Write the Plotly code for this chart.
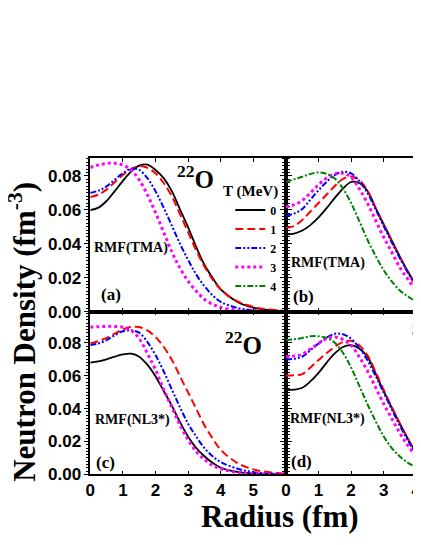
import plotly.graph_objects as go
from plotly.subplots import make_subplots

# Radius grid (fm)
radius = [0, 0.25, 0.5, 0.75, 1.0, 1.25, 1.5, 1.75, 2.0, 2.25, 2.5, 2.75,
          3.0, 3.25, 3.5, 3.75, 4.0, 4.5, 5.0, 5.5, 6.0]
radius_right = radius[:18]  # right panels are cut at ~4 fm

temps = ['0', '1', '2', '3', '4']

# (a) 22O, RMF(TMA)
a_t0 = [0.0598, 0.0613, 0.0652, 0.0710, 0.0771, 0.0825, 0.0860, 0.0866, 0.0835, 0.0787, 0.0710,
        0.0603, 0.0497, 0.0380, 0.0276, 0.0199, 0.0131, 0.0058, 0.0023, 0.0009, 0.0003]
a_t1 = [0.0675, 0.0690, 0.0719, 0.0763, 0.0806, 0.0840, 0.0858, 0.0848, 0.0816, 0.0758, 0.0680,
        0.0575, 0.0468, 0.0360, 0.0266, 0.0190, 0.0130, 0.0062, 0.0028, 0.0012, 0.0005]
a_t2 = [0.0700, 0.0713, 0.0738, 0.0777, 0.0816, 0.0842, 0.0835, 0.0787, 0.0710, 0.0613, 0.0507,
        0.0400, 0.0305, 0.0218, 0.0150, 0.0096, 0.0058, 0.0022, 0.0008, 0.0003, 0.0001]
a_t3 = [0.0850, 0.0864, 0.0873, 0.0875, 0.0864, 0.0835, 0.0777, 0.0690, 0.0584, 0.0468, 0.0353,
        0.0256, 0.0180, 0.0121, 0.0073, 0.0044, 0.0025, 0.0009, 0.0003, 0.0001, 0.0000]

# (c) 22O, RMF(NL3*)
c_t0 = [0.0680, 0.0687, 0.0700, 0.0716, 0.0730, 0.0734, 0.0716, 0.0667, 0.0597, 0.0507, 0.0418,
        0.0318, 0.0229, 0.0160, 0.0110, 0.0070, 0.0040, 0.0015, 0.0006, 0.0002, 0.0001]
c_t1 = [0.0796, 0.0810, 0.0830, 0.0856, 0.0882, 0.0896, 0.0896, 0.0876, 0.0836, 0.0776, 0.0697,
        0.0597, 0.0498, 0.0398, 0.0299, 0.0219, 0.0149, 0.0070, 0.0030, 0.0012, 0.0004]
c_t2 = [0.0786, 0.0796, 0.0816, 0.0846, 0.0870, 0.0876, 0.0862, 0.0806, 0.0726, 0.0627, 0.0517,
        0.0408, 0.0308, 0.0229, 0.0160, 0.0110, 0.0074, 0.0035, 0.0013, 0.0005, 0.0002]
c_t3 = [0.0896, 0.0898, 0.0900, 0.0900, 0.0896, 0.0876, 0.0826, 0.0736, 0.0637, 0.0517, 0.0408,
        0.0299, 0.0209, 0.0139, 0.0090, 0.0054, 0.0034, 0.0012, 0.0004, 0.0001, 0.0000]

# (b) RMF(TMA), second nucleus
b_t0 = [0.0455, 0.0460, 0.0478, 0.0510, 0.0555, 0.0610, 0.0670, 0.0725, 0.0764, 0.0758, 0.0712,
        0.0613, 0.0515, 0.0420, 0.0324, 0.0235, 0.0160, 0.0065]
b_t1 = [0.0493, 0.0505, 0.0540, 0.0590, 0.0640, 0.0690, 0.0740, 0.0782, 0.0796, 0.0775, 0.0715,
        0.0612, 0.0512, 0.0415, 0.0320, 0.0232, 0.0155, 0.0060]
b_t2 = [0.0565, 0.0578, 0.0605, 0.0660, 0.0715, 0.0765, 0.0805, 0.0825, 0.0815, 0.0770, 0.0700,
        0.0605, 0.0505, 0.0408, 0.0315, 0.0228, 0.0152, 0.0058]
b_t3 = [0.0617, 0.0630, 0.0655, 0.0700, 0.0748, 0.0788, 0.0812, 0.0815, 0.0792, 0.0725, 0.0640,
        0.0540, 0.0440, 0.0350, 0.0260, 0.0190, 0.0125, 0.0048]
b_t4 = [0.0763, 0.0780, 0.0795, 0.0812, 0.0820, 0.0812, 0.0785, 0.0725, 0.0640, 0.0535, 0.0425,
        0.0330, 0.0245, 0.0178, 0.0125, 0.0088, 0.0062, 0.0028]

# (d) RMF(NL3*), second nucleus
d_t0 = [0.0512, 0.0515, 0.0527, 0.0565, 0.0617, 0.0680, 0.0736, 0.0775, 0.0786, 0.0765, 0.0716,
        0.0615, 0.0507, 0.0405, 0.0308, 0.0215, 0.0135, 0.0050]
d_t1 = [0.0601, 0.0603, 0.0610, 0.0650, 0.0695, 0.0738, 0.0776, 0.0805, 0.0812, 0.0785, 0.0725,
        0.0625, 0.0515, 0.0410, 0.0310, 0.0215, 0.0135, 0.0050]
d_t2 = [0.0697, 0.0703, 0.0716, 0.0755, 0.0796, 0.0832, 0.0855, 0.0852, 0.0825, 0.0770, 0.0695,
        0.0600, 0.0498, 0.0395, 0.0295, 0.0205, 0.0128, 0.0045]
d_t3 = [0.0716, 0.0720, 0.0730, 0.0762, 0.0796, 0.0826, 0.0836, 0.0820, 0.0785, 0.0715, 0.0630,
        0.0530, 0.0430, 0.0340, 0.0250, 0.0175, 0.0110, 0.0040]
d_t4 = [0.0816, 0.0822, 0.0830, 0.0840, 0.0840, 0.0830, 0.0800, 0.0740, 0.0650, 0.0540, 0.0428,
        0.0325, 0.0232, 0.0160, 0.0108, 0.0070, 0.0045, 0.0018]

# line styles per temperature
colors = ['black', 'red', 'blue', 'magenta', 'green']
dashes = ['solid', '8px,4px', '6px,2px,2px,2px,2px,2px', 'dot', '6px,2px,2px,2px']
widths = [1.8, 2, 2, 3, 2]

SERIF = 'Liberation Serif'
SANS = 'Liberation Sans'

fig = make_subplots(rows=2, cols=2, horizontal_spacing=0, vertical_spacing=0)


def add_curve(x, y, k, row, col, legend=False):
    fig.add_trace(go.Scatter(x=x, y=y, mode='lines', name=temps[k], showlegend=legend,
                             line=dict(color=colors[k], dash=dashes[k], width=widths[k],
                                       shape='spline')), row=row, col=col)


for k, ys in enumerate([a_t0, a_t1, a_t2, a_t3]):
    add_curve(radius, ys, k, 1, 1, legend=True)
for k, ys in enumerate([b_t0, b_t1, b_t2, b_t3, b_t4]):
    add_curve(radius_right, ys, k, 1, 2, legend=(k == 4))
for k, ys in enumerate([c_t0, c_t1, c_t2, c_t3]):
    add_curve(radius, ys, k, 2, 1)
for k, ys in enumerate([d_t0, d_t1, d_t2, d_t3, d_t4]):
    add_curve(radius_right, ys, k, 2, 2)

# axes (page is shifted ~8px to the right, so x positions are placed 8px left)
left_dom = [0.1884, 0.6658]
right_dom = [0.6658, 1.0]
top_dom = [0.4325, 0.7198]
bot_dom = [0.1284, 0.4325]

xcommon = dict(showline=True, linecolor='black', linewidth=1.5, mirror='ticks', ticks='inside',
               ticklen=4, tickcolor='black', dtick=1, showgrid=False, zeroline=False,
               tickfont=dict(family=SANS, size=17, color='black', weight='bold'))
ycommon = dict(showline=True, linecolor='black', linewidth=1.5, mirror='ticks', ticks='outside',
               ticklen=4, tickcolor='black', dtick=0.02, tickformat='.2f', showgrid=False,
               zeroline=False, minor=dict(dtick=0.002, ticks='outside', ticklen=2, tickcolor='black'),
               tickfont=dict(family=SANS, size=17, color='black', weight='bold'))

fig.update_xaxes(**xcommon)
fig.update_yaxes(**ycommon)
fig.update_layout(
    xaxis=dict(domain=left_dom, range=[0, 6], showticklabels=False),
    xaxis2=dict(domain=right_dom, range=[0, 4.21], showticklabels=False),
    xaxis3=dict(domain=left_dom, range=[0, 6], tickvals=[0, 1, 2, 3, 4, 5]),
    xaxis4=dict(domain=right_dom, range=[0, 4.21], tickvals=[0, 1, 2, 3, 4]),
    yaxis=dict(domain=top_dom, range=[0, 0.0906]),
    yaxis2=dict(domain=top_dom, range=[0, 0.0906], showticklabels=False),
    yaxis3=dict(domain=bot_dom, range=[0, 0.099], tickvals=[0, 0.02, 0.04, 0.06, 0.08]),
    yaxis4=dict(domain=bot_dom, range=[0, 0.099], showticklabels=False),
)


def label(text, x, y, xref, yref, size, **kw):
    kw.setdefault('xanchor', 'center')
    kw.setdefault('yanchor', 'middle')
    fig.add_annotation(text=text, x=x, y=y, xref=xref, yref=yref, showarrow=False,
                       font=dict(family=SERIF, size=size, color='black', weight='bold'), **kw)


# panel texts
label('(a)', 0.65, 0.0098, 'x', 'y', 17)
label('RMF(TMA)', 1.26, 0.0372, 'x', 'y', 14)
label('<sup>22</sup>O', 3.24, 0.0794, 'x', 'y', 25)
label('(b)', 0.53, 0.0092, 'x2', 'y2', 17)
label('RMF(TMA)', 1.28, 0.0285, 'x2', 'y2', 14)
label('(c)', 0.47, 0.0073, 'x3', 'y3', 17)
label('RMF(NL3*)', 1.28, 0.0328, 'x3', 'y3', 14)
label('<sup>22</sup>O', 4.70, 0.0797, 'x3', 'y3', 25)
label('(d)', 0.47, 0.0079, 'x4', 'y4', 17)
label('RMF(NL3*)', 1.27, 0.0338, 'x4', 'y4', 14)
label('3', 3.80, 0.0875, 'x4', 'y4', 14, xanchor='left')

# legend title
label('T (MeV)', 0.5784, 0.657, 'paper', 'paper', 15)

# axis titles
label('Neutron Density (fm<sup>-3</sup>)', 0.024, 0.3945, 'paper', 'paper', 31, textangle=-90)
label('Radius (fm)', 0.652, 0.0495, 'paper', 'paper', 31)

fig.update_layout(
    width=421, height=545,
    margin=dict(l=0, r=0, t=0, b=0),
    plot_bgcolor='white', paper_bgcolor='white',
    legend=dict(x=0.53, y=0.6495, xanchor='left', yanchor='top', bgcolor='rgba(0,0,0,0)',
                tracegroupgap=0, itemwidth=30,
                font=dict(family=SERIF, size=12, color='black', weight='bold')),
)

fig.write_html("out.html")
